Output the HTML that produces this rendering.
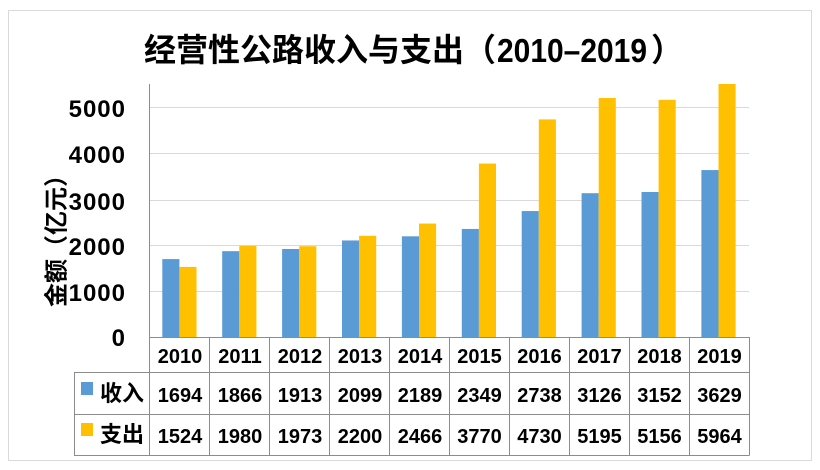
<!DOCTYPE html>
<html><head><meta charset="utf-8"><style>
html,body{margin:0;padding:0;background:#fff;}
svg{display:block;}
text{font-family:"Liberation Sans","Noto Sans CJK SC",sans-serif;font-weight:bold;fill:#000;}
</style></head><body>
<svg width="820" height="470" viewBox="0 0 820 470" xmlns="http://www.w3.org/2000/svg">
<rect x="0" y="0" width="820" height="470" fill="#fff"/>
<rect x="8.5" y="10.5" width="803" height="450" fill="none" stroke="#d9d9d9" stroke-width="1"/>

<!-- title -->
<text x="144" y="61" font-size="32" font-family="'Noto Sans CJK SC',sans-serif">经营性公路收入与支出（</text>
<text x="497" y="62" font-size="33" textLength="150" lengthAdjust="spacingAndGlyphs">2010–2019</text>
<text x="651" y="61" font-size="32" font-family="'Noto Sans CJK SC',sans-serif">）</text>

<!-- gridlines -->
<g stroke="#d9d9d9" stroke-width="1" shape-rendering="crispEdges">
<line x1="150" y1="107.5" x2="749" y2="107.5"/>
<line x1="150" y1="153.5" x2="749" y2="153.5"/>
<line x1="150" y1="200.5" x2="749" y2="200.5"/>
<line x1="150" y1="245.5" x2="749" y2="245.5"/>
<line x1="150" y1="291.5" x2="749" y2="291.5"/>
</g>

<!-- y labels -->
<g font-size="24" text-anchor="end" letter-spacing="1">
<text x="126" y="117">5000</text>
<text x="126" y="163">4000</text>
<text x="126" y="210">3000</text>
<text x="126" y="255">2000</text>
<text x="126" y="301">1000</text>
<text x="126" y="346">0</text>
</g>

<!-- y title -->
<text transform="translate(57,235) rotate(-90)" font-size="24" text-anchor="middle" dominant-baseline="central">金额（亿元）</text>

<!-- bars income -->
<g fill="#5b9bd5">
<rect x="162.3" y="259.08" width="17.1" height="77.92"/>
<rect x="222.2" y="251.16" width="17.1" height="85.84"/>
<rect x="282.1" y="249.0" width="17.1" height="88.0"/>
<rect x="342.0" y="240.45" width="17.1" height="96.55"/>
<rect x="401.9" y="236.31" width="17.1" height="100.69"/>
<rect x="461.8" y="228.95" width="17.1" height="108.05"/>
<rect x="521.7" y="211.05" width="17.1" height="125.95"/>
<rect x="581.6" y="193.20" width="17.1" height="143.80"/>
<rect x="641.5" y="192.01" width="17.1" height="144.99"/>
<rect x="701.4" y="170.07" width="17.1" height="166.93"/>
</g>
<!-- bars expenditure -->
<g fill="#ffc000">
<rect x="179.4" y="266.90" width="17.1" height="70.10"/>
<rect x="239.3" y="245.92" width="17.1" height="91.08"/>
<rect x="299.2" y="246.24" width="17.1" height="90.76"/>
<rect x="359.1" y="235.80" width="17.1" height="101.20"/>
<rect x="419.0" y="223.56" width="17.1" height="113.44"/>
<rect x="478.9" y="163.58" width="17.1" height="173.42"/>
<rect x="538.8" y="119.42" width="17.1" height="217.58"/>
<rect x="598.7" y="98.03" width="17.1" height="238.97"/>
<rect x="658.6" y="99.82" width="17.1" height="237.18"/>
<rect x="718.5" y="84" width="17.1" height="253"/>
</g>

<!-- axis & table lines -->
<g stroke="#8c8c8c" stroke-width="1" shape-rendering="crispEdges">
<line x1="149.5" y1="84" x2="149.5" y2="455.5"/>
<line x1="150" y1="337.5" x2="749" y2="337.5"/>
<line x1="74" y1="372.5" x2="749" y2="372.5"/>
<line x1="74" y1="414.5" x2="749" y2="414.5"/>
<line x1="74" y1="455.5" x2="749.5" y2="455.5"/>
<line x1="74.5" y1="372" x2="74.5" y2="455.5"/>
<line x1="209.5" y1="337" x2="209.5" y2="455.5"/>
<line x1="269.5" y1="337" x2="269.5" y2="455.5"/>
<line x1="329.5" y1="337" x2="329.5" y2="455.5"/>
<line x1="389.5" y1="337" x2="389.5" y2="455.5"/>
<line x1="449.5" y1="337" x2="449.5" y2="455.5"/>
<line x1="509.5" y1="337" x2="509.5" y2="455.5"/>
<line x1="569.5" y1="337" x2="569.5" y2="455.5"/>
<line x1="629.5" y1="337" x2="629.5" y2="455.5"/>
<line x1="689.5" y1="337" x2="689.5" y2="455.5"/>
<line x1="749.5" y1="337" x2="749.5" y2="455.5"/>
</g>

<!-- years -->
<g font-size="20" text-anchor="middle">
<text x="180" y="363">2010</text>
<text x="240" y="363">2011</text>
<text x="300" y="363">2012</text>
<text x="360" y="363">2013</text>
<text x="420" y="363">2014</text>
<text x="479.5" y="363">2015</text>
<text x="539.5" y="363">2016</text>
<text x="599.5" y="363">2017</text>
<text x="659.5" y="363">2018</text>
<text x="719.5" y="363">2019</text>
</g>
<!-- income row -->
<g font-size="20" text-anchor="middle">
<text x="180" y="402">1694</text>
<text x="240" y="402">1866</text>
<text x="300" y="402">1913</text>
<text x="360" y="402">2099</text>
<text x="420" y="402">2189</text>
<text x="479.5" y="402">2349</text>
<text x="539.5" y="402">2738</text>
<text x="599.5" y="402">3126</text>
<text x="659.5" y="402">3152</text>
<text x="719.5" y="402">3629</text>
</g>
<!-- expenditure row -->
<g font-size="20" text-anchor="middle">
<text x="180" y="443">1524</text>
<text x="240" y="443">1980</text>
<text x="300" y="443">1973</text>
<text x="360" y="443">2200</text>
<text x="420" y="443">2466</text>
<text x="479.5" y="443">3770</text>
<text x="539.5" y="443">4730</text>
<text x="599.5" y="443">5195</text>
<text x="659.5" y="443">5156</text>
<text x="719.5" y="443">5964</text>
</g>

<!-- legend -->
<rect x="81" y="382" width="12" height="13" fill="#5b9bd5"/>
<rect x="81" y="423" width="12" height="13" fill="#ffc000"/>
<text x="100" y="401" font-size="22" font-family="'Noto Sans CJK SC',sans-serif" font-weight="500">收入</text>
<text x="100" y="442" font-size="22" font-family="'Noto Sans CJK SC',sans-serif" font-weight="500">支出</text>
</svg>
</body></html>
